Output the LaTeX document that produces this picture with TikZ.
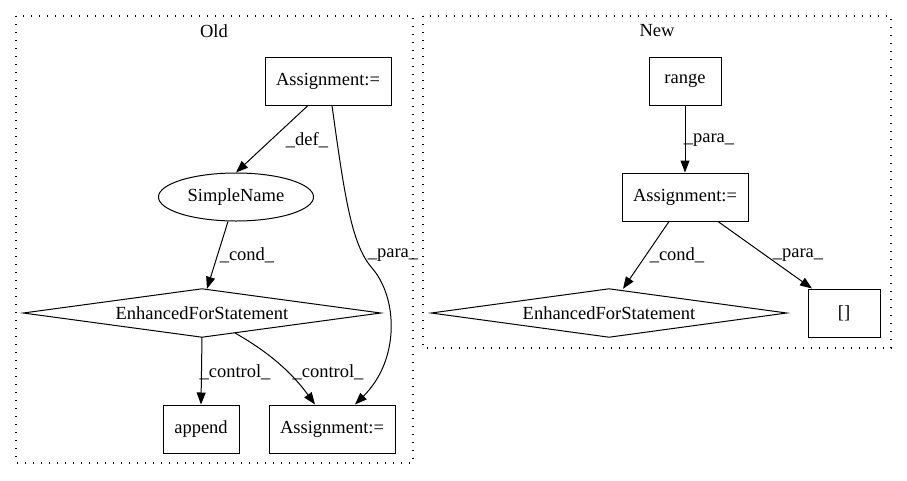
\documentclass[tikz,border=0pt]{standalone}
\usepackage{fontspec}
\setmainfont{Liberation Serif}
\usetikzlibrary{arrows.meta,shapes.geometric}
\begin{document}
\begin{tikzpicture}[x=1pt,y=-1pt,
  every node/.style={font=\fontsize{18.5}{20}\selectfont},
  box/.style={draw,line width=1pt,rectangle,minimum height=48pt,inner sep=0pt},
  ell/.style={draw,line width=1pt,ellipse,minimum width=155pt,minimum height=48pt,inner sep=0pt},
  dia/.style={minimum height=48pt,inner sep=0pt},
  clus/.style={line width=1.2pt,dash pattern=on 1.4pt off 6.6pt},
  edge/.style={line width=1pt,-{Triangle[length=12pt,width=9pt]}},
  lab/.style={inner sep=0pt}]
\useasboundingbox (0,0) rectangle (907,480);
% clusters
\draw[clus] (16,16) rectangle (413,463);
\draw[clus] (423,16) rectangle (891,348);
\node[lab] (tOld) at (214,31) {Old};
\node[lab] (tNew) at (657,31) {New};
% Old nodes
\node[box,minimum width=126pt] (a1) at (328,81) {Assignment:=};
\node[ell] (sn) at (236,197) {SimpleName};
\node[dia,minimum width=357pt] (d1) at (202,313) {EnhancedForStatement};
\draw[line width=1pt] (d1.west) -- (d1.north) -- (d1.east) -- (d1.south) -- cycle;
\node[box,minimum width=76pt] (ap) at (201,429) {append};
\node[box,minimum width=126pt] (a2) at (332,429) {Assignment:=};
% New nodes
\node[box,minimum width=72pt] (rg) at (685,81) {range};
\node[box,minimum width=126pt] (a3) at (685,197) {Assignment:=};
\node[dia,minimum width=355pt] (d2) at (609,313) {EnhancedForStatement};
\draw[line width=1pt] (d2.west) -- (d2.north) -- (d2.east) -- (d2.south) -- cycle;
\node[box,minimum width=72pt] (br) at (844,313) {[]};
% Old edges
\draw[edge] ([xshift=-20pt]a1.south) -- (sn.north);
\node[lab] (l1) at (307,140) {\_def\_};
\draw[edge] ([xshift=4pt]a1.south) .. controls (345,200) and (352,245) .. (372,268)
   .. controls (398,298) and (400,360) .. ([xshift=23pt]a2.north);
\node[lab] (l2) at (393,255) {\_para\_};
\draw[edge] ([xshift=-8pt]sn.south) -- ([xshift=5pt]d1.north);
\node[lab] (l3) at (247,255) {\_cond\_};
\draw[edge] (235,333) .. controls (265,350) and (290,370) .. ([xshift=-17pt]a2.north);
\draw[edge] (d1.south) -- (ap.north);
\node[lab] (l4) at (235,372) {\_control\_};
\node[lab] (l5) at (328,372) {\_control\_};
% New edges
\draw[edge] (rg.south) -- (a3.north);
\node[lab] (l6) at (709,140) {\_para\_};
\draw[edge] ([xshift=-16pt]a3.south) -- ([xshift=14pt]d2.north);
\node[lab] (l7) at (677,255) {\_cond\_};
\draw[edge] ([xshift=33pt]a3.south) -- ([xshift=-32pt]br.north);
\node[lab] (l8) at (798,255) {\_para\_};
\end{tikzpicture}
\end{document}
